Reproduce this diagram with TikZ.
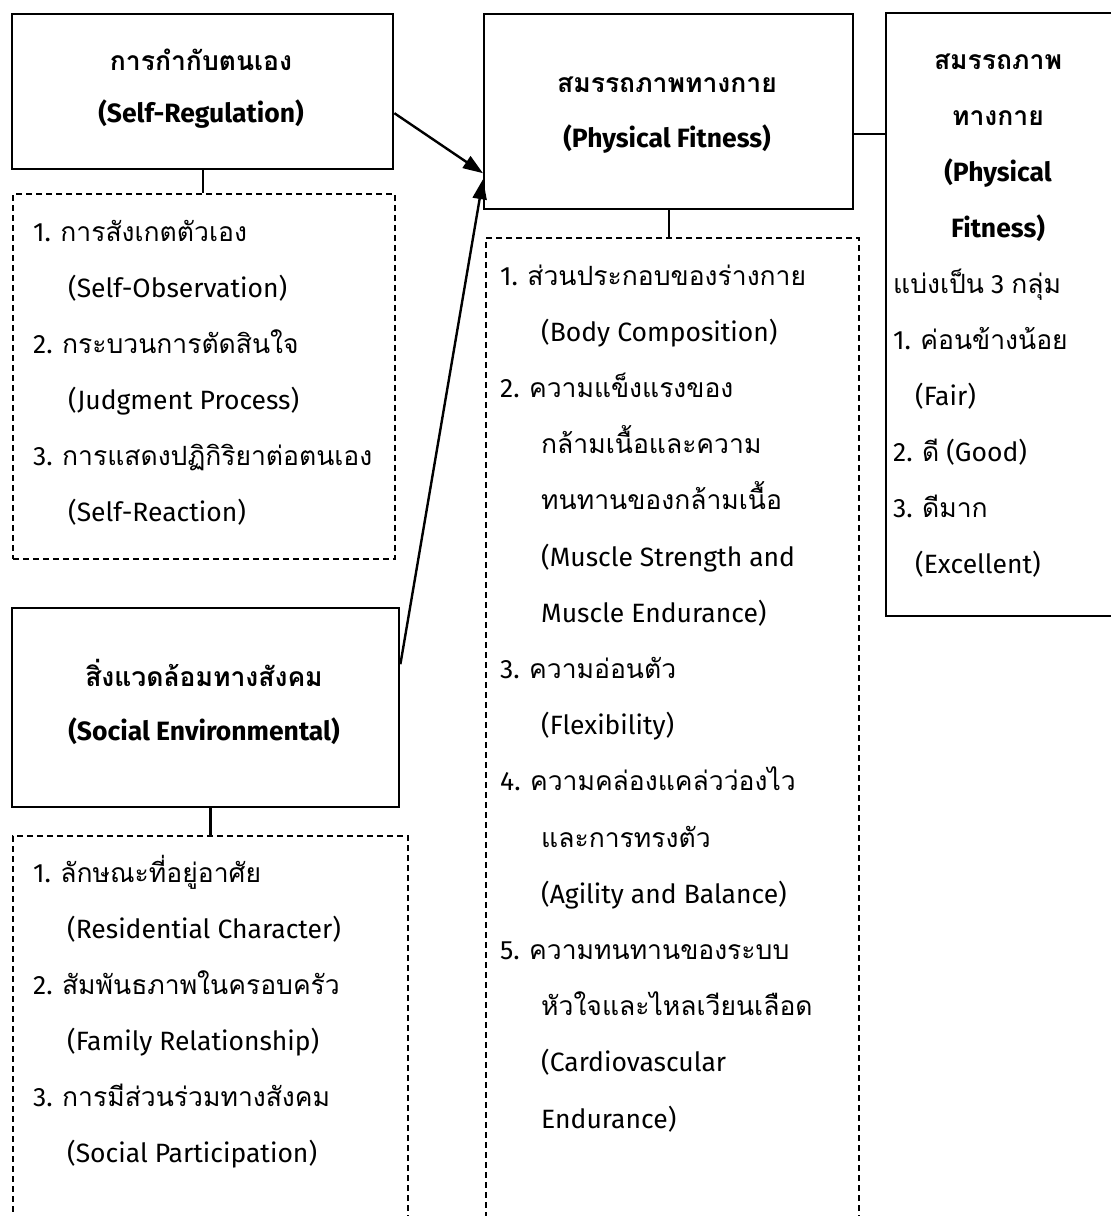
\documentclass[tikz,border=0pt]{standalone}
\usepackage{fontspec}
\setmainfont{Fira Sans}
\newfontfamily\thaifont[Script=Thai,Scale=1.0]{Loma}
\newcommand\thtext[1]{{\thaifont #1}}
\usetikzlibrary{arrows.meta}
\begin{document}
\begin{tikzpicture}[x=1pt,y=-1pt,
  solidbox/.style={draw, line width=2.4pt, inner sep=0pt, anchor=north west},
  listbox/.style={draw, dash pattern=on 6pt off 4pt, line width=2pt, inner sep=0pt, anchor=north west},
  txt/.style={anchor=base west, inner sep=0pt, font=\fontsize{26.5}{30}\selectfont},
  ttl/.style={anchor=base, inner sep=0pt, font=\fontsize{26.5}{30}\selectfont\bfseries},
  link/.style={line width=2.4pt},
  arr/.style={line width=2.4pt, -{Triangle[length=20pt,width=14pt]}}
]
\useasboundingbox (0,0) rectangle (1111,1216);
\clip (0,0) rectangle (1111,1216);

% main boxes
\node[solidbox, minimum width=381pt, minimum height=155pt] (sr) at (11,13) {};
\node[solidbox, minimum width=387pt, minimum height=199pt] (se) at (11,607) {};
\node[solidbox, minimum width=369pt, minimum height=195pt] (pf) at (483,13) {};
\node[solidbox, minimum width=231pt, minimum height=603pt] (rb) at (885,12) {};

% dashed lists
\node[listbox, minimum width=382pt, minimum height=365pt] (d1) at (12,193) {};
\node[listbox, minimum width=395pt, minimum height=420pt] (d3) at (12,835) {};
\node[listbox, minimum width=373pt, minimum height=1010pt] (d2) at (485,237) {};

% connectors
\draw[link] (sr.south) -- (sr.south |- d1.north);
\draw[link] (pf.south) -- (pf.south |- d2.north);
\draw[link] (d3.north |- se.south) -- (d3.north);
\draw[link] ([yshift=-22.5pt]pf.east) coordinate (pfr) -- (pfr -| rb.west);
\draw[arr] ([yshift=-21.5pt]sr.east) -- ([yshift=-61.5pt]pf.west);
\draw[arr] ([yshift=43.5pt]se.east) -- ([yshift=-67.5pt]pf.west);

% titles
\node[ttl] (srt1) at (201,70) {\thtext{การกำกับตนเอง}};
\node[ttl] (srt2) at (201,122) {(Self-Regulation)};
\node[ttl] (pft1) at (667,92) {\thtext{สมรรถภาพทางกาย}};
\node[ttl] (pft2) at (667,147) {(Physical Fitness)};
\node[ttl] (set1) at (204,686) {\thtext{สิ่งแวดล้อมทางสังคม}};
\node[ttl] (set2) at (204,740) {(Social Environmental)};

% right box
\foreach \txt [count=\i from 0] in {{\thtext{สมรรถภาพ}}, {\thtext{ทางกาย}}, {(Physical}, {Fitness)}}
  \node[ttl] (rbt\i) at (998,69+56*\i) {\txt};
\foreach \xx/\txt [count=\i from 0] in {893/{\thtext{แบ่งเป็น} 3 \thtext{กลุ่ม}},
    893/{1. \thtext{ค่อนข้างน้อย}}, 915/{(Fair)},
    893/{2. \thtext{ดี} (Good)}, 893/{3. \thtext{ดีมาก}}, 915/{(Excellent)}}
  \node[txt] (rbl\i) at (\xx,293+56*\i) {\txt};

% list texts
\foreach \xx/\txt [count=\i from 0] in {33/{1. \thtext{การสังเกตตัวเอง}}, 68/{(Self-Observation)},
    33/{2. \thtext{กระบวนการตัดสินใจ}}, 68/{(Judgment Process)},
    33/{3. \thtext{การแสดงปฏิกิริยาต่อตนเอง}}, 68/{(Self-Reaction)}}
  \node[txt] (d1t\i) at (\xx,241+56*\i) {\txt};
\foreach \xx/\txt [count=\i from 0] in {33/{1. \thtext{ลักษณะที่อยู่อาศัย}}, 67/{(Residential Character)},
    33/{2. \thtext{สัมพันธภาพในครอบครัว}}, 67/{(Family Relationship)},
    33/{3. \thtext{การมีส่วนร่วมทางสังคม}}, 67/{(Social Participation)}}
  \node[txt] (d3t\i) at (\xx,882+56*\i) {\txt};
\foreach \xx/\txt [count=\i from 0] in {500/{1. \thtext{ส่วนประกอบของร่างกาย}}, 541/{(Body Composition)},
    500/{2. \thtext{ความแข็งแรงของ}}, 541/{\thtext{กล้ามเนื้อและความ}}, 541/{\thtext{ทนทานของกล้ามเนื้อ}},
    541/{(Muscle Strength and}, 541/{Muscle Endurance)},
    500/{3. \thtext{ความอ่อนตัว}}, 541/{(Flexibility)},
    500/{4. \thtext{ความคล่องแคล่วว่องไว}}, 541/{\thtext{และการทรงตัว}}, 541/{(Agility and Balance)},
    500/{5. \thtext{ความทนทานของระบบ}}, 541/{\thtext{หัวใจและไหลเวียนเลือด}}, 541/{(Cardiovascular}, 541/{Endurance)}}
  \node[txt] (d2t\i) at (\xx,285+56.2*\i) {\txt};
\end{tikzpicture}
\end{document}
